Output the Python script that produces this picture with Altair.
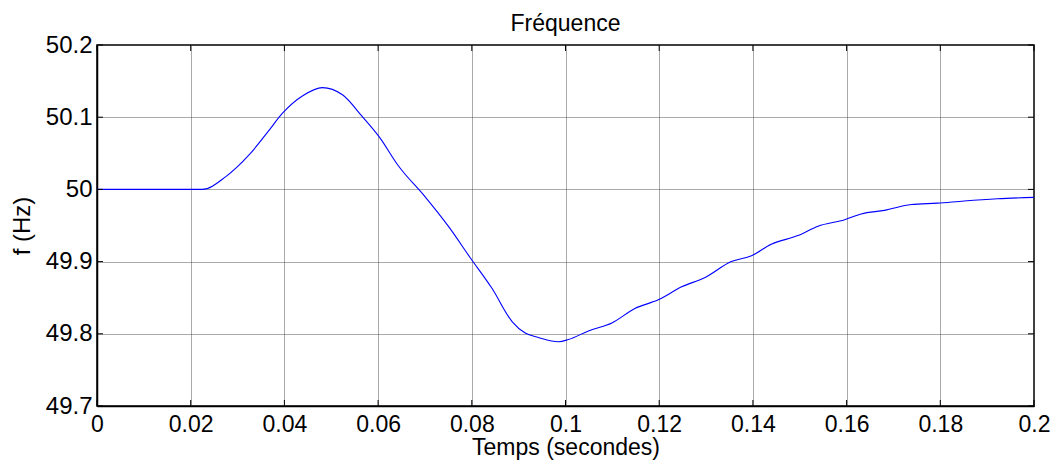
import altair as alt
import pandas as pd

t = [0.0, 0.01, 0.02, 0.0225, 0.0275, 0.0325, 0.0365, 0.0396, 0.0440, 0.0481, 0.0524, 0.0566, 0.0602,
     0.0644, 0.0700, 0.0751, 0.0797, 0.0843, 0.0886, 0.0914, 0.0942, 0.0985, 0.1006, 0.1049,
     0.1099, 0.1148, 0.1198, 0.1248, 0.1298, 0.1354, 0.1397, 0.1439, 0.1496, 0.1539, 0.1596,
     0.1631, 0.1681, 0.1738, 0.1794, 0.1851, 0.1922, 0.2]
f = [50.0, 50.0, 50.0, 50.0, 50.0177, 50.048, 50.080, 50.1055, 50.130, 50.141, 50.131, 50.101, 50.073,
     50.032, 49.99, 49.948, 49.905, 49.863, 49.817, 49.801, 49.795, 49.789, 49.792, 49.804,
     49.815, 49.835, 49.847, 49.865, 49.878, 49.900, 49.908, 49.924, 49.936, 49.949, 49.958,
     49.966, 49.971, 49.979, 49.981, 49.984, 49.987, 49.989]

x_ticks = [0, 0.02, 0.04, 0.06, 0.08, 0.1, 0.12, 0.14, 0.16, 0.18, 0.2]
y_ticks = [49.7, 49.8, 49.9, 50.0, 50.1, 50.2]

df = pd.DataFrame({"t": t, "f": f})
W, H = 937, 361
FONT = "Liberation Sans"

xs = alt.Scale(domain=[0, 0.2], nice=False)
ys = alt.Scale(domain=[49.7, 50.2], nice=False, zero=False)

line = alt.Chart(df).mark_line(color="#0000ff", strokeWidth=1.1, interpolate="monotone").encode(
    x=alt.X("t:Q", scale=xs, title="Temps (secondes)",
            axis=alt.Axis(values=x_ticks, labelExpr="datum.value == 0 ? '0' : format(datum.value, '.2~f')",
                          grid=True, ticks=False, labelPadding=7, titlePadding=0, labelFlush=False,
                          labelFontSize=23, titleFontSize=23)),
    y=alt.Y("f:Q", scale=ys, title="f (Hz)",
            axis=alt.Axis(values=y_ticks, labelExpr="format(datum.value, '.1~f')",
                          grid=True, ticks=False, labelPadding=5, titlePadding=11, labelFlush=False)),
)

xt = pd.DataFrame({"t": x_ticks})
yt = pd.DataFrame({"f": y_ticks})
xb = alt.Chart(xt).mark_rule(color="black", strokeWidth=1).encode(
    x=alt.X("t:Q", scale=xs), y=alt.value(H), y2=alt.value(H - 6))
xtp = alt.Chart(xt).mark_rule(color="black", strokeWidth=1).encode(
    x=alt.X("t:Q", scale=xs), y=alt.value(0), y2=alt.value(6))
yl = alt.Chart(yt).mark_rule(color="black", strokeWidth=1).encode(
    y=alt.Y("f:Q", scale=ys), x=alt.value(0), x2=alt.value(6))
yr = alt.Chart(yt).mark_rule(color="black", strokeWidth=1).encode(
    y=alt.Y("f:Q", scale=ys), x=alt.value(W), x2=alt.value(W - 6))

chart = alt.layer(line, xb, xtp, yl, yr).properties(
    width=W, height=H,
    title=alt.TitleParams("Fréquence", font=FONT, fontSize=23, fontWeight="normal", color="black", offset=-3),
    padding={"left": 89, "top": 37, "right": 17, "bottom": 55},
    autosize=alt.AutoSizeParams(type="none"),
).configure_view(stroke="black", strokeWidth=1.5).configure_axis(
    labelFont=FONT, titleFont=FONT, labelFontSize=24, titleFontSize=24,
    labelColor="black", titleColor="black", titleFontWeight="normal",
    domainColor="black", domainWidth=1.5,
    gridColor="#444444", gridDash=[1, 1], gridWidth=1, gridOpacity=0.9,
)

chart.save("out.html", embed_options={"renderer": "svg", "actions": False})
